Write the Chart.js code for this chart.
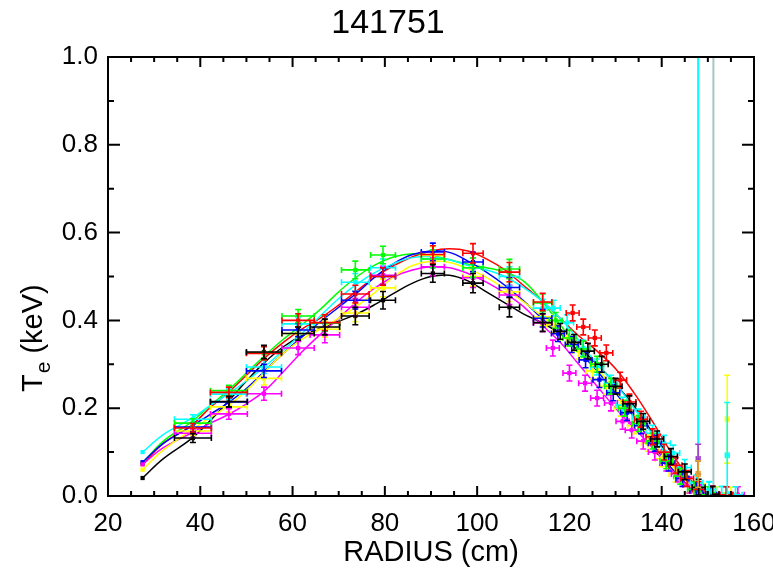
<!DOCTYPE html>
<html lang="en">
<head>
<meta charset="UTF-8" />
<title>141751</title>
<script src="https://cdn.jsdelivr.net/npm/chart.js@4.4.0/dist/chart.umd.min.js"></script>
<style>
  body { margin: 0; background: #fff; }
</style>
</head>
<body>
<canvas id="te" width="773" height="576"></canvas>
<script>
const FONT = '"Liberation Sans", Arial, sans-serif';

// fitted profiles, one per time slice
const fitRadius  = [27.5, 32, 38, 42, 46, 50, 54, 58, 62, 66, 70, 74, 78, 82, 86, 90, 94, 98, 102, 106, 110, 114, 118, 122, 126, 130, 134, 138, 142, 146, 148, 150];
const fitBlack   = [0.041, 0.085, 0.13, 0.17, 0.215, 0.262, 0.305, 0.34, 0.365, 0.382, 0.398, 0.415, 0.437, 0.462, 0.485, 0.50, 0.503, 0.49, 0.465, 0.44, 0.415, 0.395, 0.37, 0.34, 0.30, 0.255, 0.205, 0.145, 0.085, 0.03, 0.012, 0.0];
const fitRed     = [0.072, 0.12, 0.16, 0.20, 0.235, 0.275, 0.315, 0.35, 0.38, 0.405, 0.435, 0.468, 0.50, 0.525, 0.545, 0.558, 0.563, 0.558, 0.54, 0.515, 0.48, 0.445, 0.405, 0.365, 0.33, 0.29, 0.235, 0.17, 0.10, 0.04, 0.018, 0.0];
const fitGreen   = [0.075, 0.125, 0.168, 0.205, 0.24, 0.28, 0.32, 0.357, 0.39, 0.425, 0.465, 0.50, 0.527, 0.545, 0.552, 0.548, 0.538, 0.528, 0.52, 0.51, 0.49, 0.445, 0.39, 0.34, 0.29, 0.24, 0.18, 0.12, 0.065, 0.022, 0.008, 0.0];
const fitBlue    = [0.077, 0.12, 0.158, 0.185, 0.212, 0.245, 0.285, 0.325, 0.362, 0.397, 0.43, 0.463, 0.50, 0.53, 0.55, 0.558, 0.555, 0.535, 0.51, 0.48, 0.445, 0.405, 0.37, 0.33, 0.285, 0.235, 0.18, 0.12, 0.065, 0.022, 0.008, 0.0];
const fitCyan    = [0.10, 0.14, 0.176, 0.205, 0.232, 0.262, 0.295, 0.332, 0.37, 0.41, 0.45, 0.483, 0.51, 0.53, 0.543, 0.545, 0.538, 0.525, 0.515, 0.50, 0.475, 0.445, 0.405, 0.355, 0.30, 0.255, 0.20, 0.14, 0.08, 0.03, 0.012, 0.0];
const fitMagenta = [0.072, 0.11, 0.143, 0.165, 0.185, 0.21, 0.24, 0.283, 0.328, 0.368, 0.405, 0.443, 0.475, 0.50, 0.515, 0.522, 0.52, 0.507, 0.487, 0.462, 0.432, 0.39, 0.35, 0.30, 0.25, 0.20, 0.155, 0.11, 0.06, 0.02, 0.008, 0.0];
const fitYellow  = [0.06, 0.105, 0.15, 0.178, 0.205, 0.24, 0.283, 0.325, 0.357, 0.38, 0.405, 0.433, 0.465, 0.50, 0.525, 0.535, 0.532, 0.518, 0.498, 0.472, 0.443, 0.41, 0.375, 0.335, 0.29, 0.24, 0.185, 0.125, 0.07, 0.025, 0.01, 0.0];

// core channels (shared radii and errors)
const coreRadius = [27.5, 38.4, 46.2, 53.8, 61.2, 67.0, 73.6, 79.6, 90.4, 99.1, 107.0, 114.2];
const coreXErr   = [0, 4.0, 4.0, 3.8, 3.5, 3.2, 3.0, 2.7, 2.5, 2.2, 2.2, 2.0];
const coreYErr   = [0, 0.010, 0.012, 0.015, 0.015, 0.018, 0.02, 0.02, 0.02, 0.022, 0.022, 0.02];
const coreBlack   = [0.041, 0.132, 0.215, 0.328, 0.37, 0.385, 0.41, 0.446, 0.507, 0.485, 0.43, 0.395];
const coreRed     = [0.073, 0.155, 0.236, 0.325, 0.40, 0.395, 0.46, 0.50, 0.55, 0.553, 0.51, 0.442];
const coreGreen   = [0.075, 0.166, 0.24, 0.326, 0.41, 0.394, 0.515, 0.549, 0.54, 0.52, 0.517, 0.44];
const coreBlue    = [0.077, 0.157, 0.214, 0.285, 0.378, 0.394, 0.446, 0.50, 0.556, 0.533, 0.475, 0.405];
const coreCyan    = [0.10, 0.175, 0.232, 0.294, 0.392, 0.394, 0.487, 0.52, 0.54, 0.52, 0.50, 0.428];
const coreMagenta = [0.072, 0.143, 0.187, 0.233, 0.337, 0.367, 0.43, 0.503, 0.522, 0.497, 0.458, 0.394];
const coreYellow  = [0.06, 0.148, 0.203, 0.268, 0.37, 0.38, 0.417, 0.474, 0.548, 0.50, 0.465, 0.408];

// edge channels
const edgeXErr = 1.4;
const edgeYErr = 0.018;
const edgeRadiusBlack   = [118, 121, 124, 127, 130, 133, 136, 139, 142, 145, 148, 151];
const edgeBlack         = [0.375, 0.35, 0.33, 0.30, 0.25, 0.21, 0.17, 0.13, 0.09, 0.055, 0.02, 0.004];
const edgeRadiusRed     = [120.7, 123, 125.5, 128, 131, 133, 135.5, 138, 140.5, 143, 145.5, 148, 151, 154];
const edgeRed           = [0.417, 0.385, 0.36, 0.326, 0.264, 0.214, 0.175, 0.135, 0.10, 0.07, 0.04, 0.015, 0.004, 0.003];
const edgeRadiusGreen   = [117, 120, 123, 126, 129, 132, 135, 138, 141, 144, 147, 150];
const edgeGreen         = [0.40, 0.36, 0.335, 0.30, 0.25, 0.20, 0.165, 0.125, 0.08, 0.045, 0.015, 0.003];
const edgeRadiusBlue    = [117.5, 120.5, 123.5, 126.5, 129.5, 132.5, 135.5, 138.5, 141.5, 144.5, 147.5, 150.5];
const edgeBlue          = [0.37, 0.345, 0.31, 0.265, 0.235, 0.19, 0.16, 0.12, 0.075, 0.04, 0.012, 0.003];
const edgeRadiusCyan    = [116.6, 119.5, 123, 126, 129, 131.5, 135, 138, 140.5, 142.5, 145, 147.5, 150.3, 153, 156];
const edgeCyan          = [0.428, 0.395, 0.337, 0.294, 0.257, 0.207, 0.18, 0.143, 0.12, 0.098, 0.065, 0.03, 0.015, 0.004, 0.003];
const edgeRadiusMagenta = [116.4, 120, 123.4, 126, 129, 131.5, 133.5, 136, 138.5, 141, 143.5, 146, 148.5, 151, 154, 156.5];
const edgeMagenta       = [0.337, 0.28, 0.257, 0.223, 0.212, 0.17, 0.15, 0.125, 0.10, 0.075, 0.05, 0.025, 0.008, 0.004, 0.003, 0.003];
const edgeRadiusYellow  = [116.5, 119.5, 122, 125, 128, 131, 134, 137, 140, 143, 146, 149, 152, 155];
const edgeYellow        = [0.39, 0.36, 0.33, 0.285, 0.25, 0.20, 0.16, 0.12, 0.085, 0.05, 0.025, 0.01, 0.003, 0.002];

// odd points past the separatrix
const outRadius = [147.9, 147.9, 150.3, 154.2, 154.2];
const outTe     = [0.084, 0.050, 0.010, 0.175, 0.093];
const outErr    = [0.034, 0.030, 0.022, 0.100, 0.120];
const outColors = ['#a040d0', '#e0a030', '#00ffff', '#ffff00', '#00ffff'];

// vertical markers
const vlineRadius = [147.9, 151.2];
const vlineColors = ['#00ffff', '#a8c4c4'];

const series = [
  { color: '#000000', fit: fitBlack,   core: coreBlack,   edgeR: edgeRadiusBlack,   edge: edgeBlack },
  { color: '#ff0000', fit: fitRed,     core: coreRed,     edgeR: edgeRadiusRed,     edge: edgeRed },
  { color: '#00ff00', fit: fitGreen,   core: coreGreen,   edgeR: edgeRadiusGreen,   edge: edgeGreen },
  { color: '#0000ff', fit: fitBlue,    core: coreBlue,    edgeR: edgeRadiusBlue,    edge: edgeBlue },
  { color: '#00ffff', fit: fitCyan,    core: coreCyan,    edgeR: edgeRadiusCyan,    edge: edgeCyan },
  { color: '#ff00ff', fit: fitMagenta, core: coreMagenta, edgeR: edgeRadiusMagenta, edge: edgeMagenta },
  { color: '#ffff00', fit: fitYellow,  core: coreYellow,  edgeR: edgeRadiusYellow,  edge: edgeYellow },
];

const datasets = [];
series.slice().reverse().forEach(s => {
  datasets.push({
    type: 'line',
    data: fitRadius.map((x, i) => ({ x, y: s.fit[i] })),
    borderColor: s.color,
    borderWidth: 1.5,
    pointRadius: 0,
    tension: 0.4,
  });
  const pts = coreRadius.map((x, i) => ({ x, y: s.core[i], xErr: coreXErr[i], yErr: coreYErr[i] }))
    .concat(s.edgeR.map((x, i) => ({ x, y: s.edge[i], xErr: edgeXErr, yErr: edgeYErr })));
  datasets.push({
    type: 'scatter',
    data: pts,
    errColor: s.color,
    backgroundColor: s.color,
    borderWidth: 0,
    pointStyle: 'rect',
    pointRadius: 3,
  });
});
datasets.push({
  type: 'scatter',
  data: outRadius.map((x, i) => ({ x, y: outTe[i], xErr: 0.4, yErr: outErr[i] })),
  errColors: outColors,
  backgroundColor: outColors,
  borderWidth: 0,
  pointStyle: 'rect',
  pointRadius: 2,
});
vlineRadius.forEach((r, i) => {
  datasets.push({
    type: 'line',
    data: [{ x: r, y: 0 }, { x: r, y: 1 }],
    borderColor: vlineColors[i],
    borderWidth: 2,
    pointRadius: 0,
  });
});

const errorBars = {
  id: 'errorBars',
  afterDatasetsDraw(chart) {
    const { ctx, chartArea: a, scales: { x, y } } = chart;
    ctx.save();
    ctx.beginPath();
    ctx.rect(a.left, a.top, a.right - a.left, a.bottom - a.top);
    ctx.clip();
    ctx.lineWidth = 1.6;
    chart.data.datasets.forEach(ds => {
      if (ds.type !== 'scatter') return;
      ds.data.forEach((p, i) => {
        ctx.strokeStyle = ds.errColors ? ds.errColors[i] : ds.errColor;
        const px = x.getPixelForValue(p.x), py = y.getPixelForValue(p.y);
        ctx.beginPath();
        if (p.xErr > 0) {
          const x0 = x.getPixelForValue(p.x - p.xErr), x1 = x.getPixelForValue(p.x + p.xErr);
          ctx.moveTo(x0, py); ctx.lineTo(x1, py);
          ctx.moveTo(x0, py - 3); ctx.lineTo(x0, py + 3);
          ctx.moveTo(x1, py - 3); ctx.lineTo(x1, py + 3);
        }
        if (p.yErr > 0) {
          const y0 = y.getPixelForValue(p.y - p.yErr), y1 = y.getPixelForValue(p.y + p.yErr);
          ctx.moveTo(px, y0); ctx.lineTo(px, y1);
          ctx.moveTo(px - 3, y0); ctx.lineTo(px + 3, y0);
          ctx.moveTo(px - 3, y1); ctx.lineTo(px + 3, y1);
        }
        ctx.stroke();
      });
    });
    ctx.restore();
  }
};

// IDL style box with inward ticks, plus titles
const frame = {
  id: 'frame',
  afterDraw(chart) {
    const { ctx, chartArea: a, scales: { x, y } } = chart;
    ctx.save();
    ctx.strokeStyle = '#000';
    ctx.lineWidth = 2;
    ctx.strokeRect(a.left, a.top, a.right - a.left, a.bottom - a.top);
    ctx.beginPath();
    for (let v = 20; v <= 160; v += 5) {
      const px = x.getPixelForValue(v);
      const len = v % 20 === 0 ? 10 : 5;
      ctx.moveTo(px, a.bottom); ctx.lineTo(px, a.bottom - len);
      ctx.moveTo(px, a.top); ctx.lineTo(px, a.top + len);
    }
    for (let k = 0; k <= 10; k++) {
      const py = y.getPixelForValue(k / 10);
      const len = k % 2 === 0 ? 12 : 6;
      ctx.moveTo(a.left, py); ctx.lineTo(a.left + len, py);
      ctx.moveTo(a.right, py); ctx.lineTo(a.right - len, py);
    }
    ctx.stroke();

    ctx.fillStyle = '#000';
    ctx.textAlign = 'center';
    ctx.textBaseline = 'middle';
    ctx.font = '34px ' + FONT;
    ctx.fillText('141751', 388, 24);
    ctx.font = '29px ' + FONT;
    ctx.fillText('RADIUS (cm)', (a.left + a.right) / 2, 553);

    ctx.translate(34, 392);
    ctx.rotate(-Math.PI / 2);
    ctx.textAlign = 'left';
    ctx.textBaseline = 'middle';
    ctx.font = '29px ' + FONT;
    ctx.fillText('T', 0, 0);
    let w = ctx.measureText('T').width;
    ctx.font = '21px ' + FONT;
    ctx.fillText('e', w + 1, 10);
    w += ctx.measureText('e').width + 1;
    ctx.font = '29px ' + FONT;
    ctx.fillText(' (keV)', w, 0);
    ctx.restore();
  }
};

new Chart(document.getElementById('te'), {
  data: { datasets },
  options: {
    responsive: false,
    animation: false,
    layout: { padding: { top: 57, right: 19, bottom: 0, left: 0 } },
    plugins: { legend: { display: false }, tooltip: { enabled: false } },
    scales: {
      x: {
        type: 'linear', min: 20, max: 160,
        grid: { display: false, drawTicks: false },
        border: { display: false },
        ticks: { stepSize: 20, color: '#000', padding: 12, maxRotation: 0, font: { family: FONT, size: 26 } },
        afterFit(s) { s.height = 80; s.paddingLeft = 0; s.paddingRight = 0; },
      },
      y: {
        type: 'linear', min: 0, max: 1,
        grid: { display: false, drawTicks: false },
        border: { display: false },
        ticks: { stepSize: 0.2, color: '#000', padding: 10, font: { family: FONT, size: 26 }, callback: v => v.toFixed(1) },
        afterFit(s) { s.width = 108; s.paddingTop = 0; s.paddingBottom = 0; },
      },
    },
  },
  plugins: [errorBars, frame],
});
</script>
</body>
</html>
